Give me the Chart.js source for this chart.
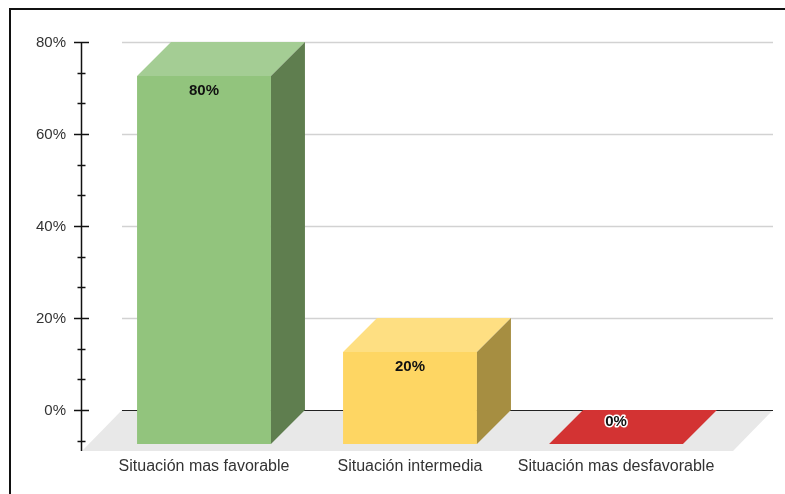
<!DOCTYPE html>
<html>
<head>
<meta charset="utf-8">
<script src="https://cdn.jsdelivr.net/npm/chart.js@4/dist/chart.umd.min.js"></script>
<style>
  html, body { margin: 0; padding: 0; background: #fff; }
  #wrap { position: relative; width: 785px; height: 494px; overflow: hidden; }
  #frame { position: absolute; left: 9px; top: 8px; width: 800px; height: 500px;
           border-left: 2px solid #111; border-top: 2px solid #111; pointer-events: none; }
  canvas { display: block; }
</style>
</head>
<body>
<div id="wrap">
  <canvas id="chart" width="785" height="494"></canvas>
  <div id="frame"></div>
</div>
<script>
// categories and values
const categories = ['Situación mas favorable', 'Situación intermedia', 'Situación mas desfavorable'];
const values = [80, 20, 0];
const frontColors = ['#92c47d', '#fed663', '#d33333'];
const topColors = ['#a4cd94', '#fedf82', '#d33333'];
const sideColors = ['#5f7e4f', '#a68e41', '#a62828'];

// y axis ticks (major with labels, minor in between)
const yMajor = [0, 20, 40, 60, 80];
const yMinor = [-20 / 3, 20 / 3, 40 / 3, 80 / 3, 100 / 3, 140 / 3, 160 / 3, 200 / 3, 220 / 3];
const yMin = -8.913;
const yMax = 80;

const DEPTH = 34;       // bar depth in px
const FLOOR = 40;       // floor depth in px
const FONT = '"Liberation Sans", Arial, sans-serif';

const pseudo3d = {
    id: 'pseudo3d',
    beforeDatasetsDraw(chart) {
        const ctx = chart.ctx;
        const y = chart.scales.y;
        const area = chart.chartArea;
        const y0 = y.getPixelForValue(0);
        const left = area.left - 13, right = area.right + 20;

        // floor
        ctx.save();
        ctx.fillStyle = '#e8e8e8';
        ctx.beginPath();
        ctx.moveTo(left, y0);
        ctx.lineTo(right, y0);
        ctx.lineTo(right - FLOOR, y0 + FLOOR + 1);
        ctx.lineTo(left - FLOOR, y0 + FLOOR + 1);
        ctx.closePath();
        ctx.fill();

        // grid lines
        yMajor.forEach(v => {
            const py = Math.round(y.getPixelForValue(v)) + 0.5;
            ctx.strokeStyle = v === 0 ? '#222' : '#d2d2d2';
            ctx.lineWidth = v === 0 ? 1 : 1.5;
            ctx.beginPath();
            ctx.moveTo(left, py);
            ctx.lineTo(right, py);
            ctx.stroke();
        });

        // y axis
        const ax = 81.5;
        ctx.strokeStyle = '#111';
        ctx.lineWidth = 1.5;
        ctx.beginPath();
        ctx.moveTo(ax, y.getPixelForValue(yMax));
        ctx.lineTo(ax, area.bottom);
        ctx.stroke();
        yMajor.forEach(v => {
            const py = Math.round(y.getPixelForValue(v)) + 0.5;
            ctx.beginPath();
            ctx.moveTo(ax - 7.5, py);
            ctx.lineTo(ax + 7.5, py);
            ctx.stroke();
        });
        yMinor.forEach(v => {
            const py = Math.round(y.getPixelForValue(v)) + 0.5;
            ctx.beginPath();
            ctx.moveTo(ax - 4, py);
            ctx.lineTo(ax + 4, py);
            ctx.stroke();
        });
        ctx.fillStyle = '#333';
        ctx.font = '15px ' + FONT;
        ctx.textAlign = 'right';
        ctx.textBaseline = 'middle';
        yMajor.forEach(v => {
            ctx.fillText(v + '%', 66, y.getPixelForValue(v) + 1);
        });
        ctx.restore();

        // front faces are the bars themselves, pushed forward
        ctx.save();
        ctx.translate(-DEPTH, DEPTH);
    },
    afterDatasetsDraw(chart) {
        const ctx = chart.ctx;
        ctx.restore();
        const meta = chart.getDatasetMeta(0);
        ctx.save();
        meta.data.forEach((bar, i) => {
            const l = bar.x - bar.width / 2, r = bar.x + bar.width / 2;
            const t = bar.y, b = bar.base;
            // top face
            ctx.fillStyle = topColors[i];
            ctx.beginPath();
            ctx.moveTo(l, t);
            ctx.lineTo(r, t);
            ctx.lineTo(r - DEPTH, t + DEPTH);
            ctx.lineTo(l - DEPTH, t + DEPTH);
            ctx.closePath();
            ctx.fill();
            // side face
            if (b - t > 0.5) {
                ctx.fillStyle = sideColors[i];
                ctx.beginPath();
                ctx.moveTo(r, t);
                ctx.lineTo(r, b);
                ctx.lineTo(r - DEPTH, b + DEPTH);
                ctx.lineTo(r - DEPTH, t + DEPTH);
                ctx.closePath();
                ctx.fill();
            }
        });

        // value labels
        ctx.font = 'bold 15px ' + FONT;
        ctx.textAlign = 'center';
        ctx.textBaseline = 'middle';
        meta.data.forEach((bar, i) => {
            const cx = bar.x - DEPTH;
            const text = values[i] + '%';
            if (values[i] === 0) {
                const ly = bar.y + 12;
                ctx.lineJoin = 'round';
                ctx.lineWidth = 3;
                ctx.strokeStyle = '#fff';
                ctx.strokeText(text, cx, ly);
                ctx.fillStyle = '#111';
                ctx.fillText(text, cx, ly);
            } else {
                ctx.fillStyle = '#111';
                ctx.fillText(text, cx, bar.y + DEPTH + 15);
            }
        });

        // category labels under the front faces
        ctx.font = '16px ' + FONT;
        ctx.fillStyle = '#333';
        meta.data.forEach((bar, i) => {
            ctx.fillText(categories[i], bar.x - DEPTH, chart.chartArea.bottom + 16);
        });
        ctx.restore();
    }
};

new Chart(document.getElementById('chart'), {
    type: 'bar',
    data: {
        labels: categories,
        datasets: [{
            data: values,
            backgroundColor: frontColors,
            borderWidth: 0,
            barPercentage: 0.65,
            categoryPercentage: 1,
            clip: false
        }]
    },
    options: {
        responsive: false,
        animation: false,
        events: [],
        layout: { padding: { left: 135, right: 32, top: 42, bottom: 43 } },
        plugins: {
            legend: { display: false },
            tooltip: { enabled: false }
        },
        scales: {
            x: { display: false },
            y: { display: false, min: yMin, max: yMax }
        }
    },
    plugins: [pseudo3d]
});
</script>
</body>
</html>
